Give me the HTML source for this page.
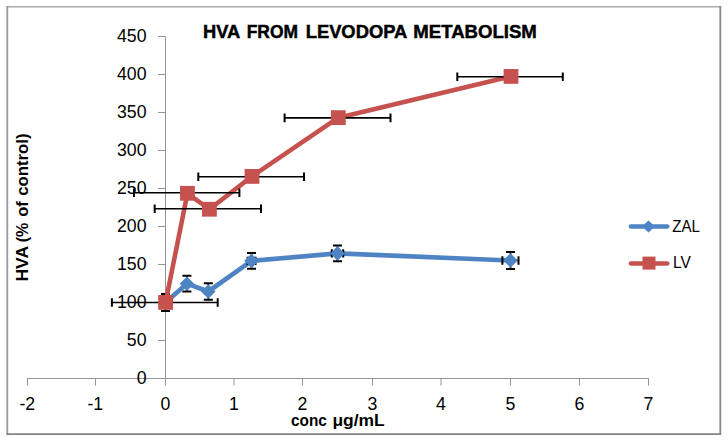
<!DOCTYPE html>
<html><head><meta charset="utf-8"><style>
html,body{margin:0;padding:0;background:#fff;width:728px;height:442px;overflow:hidden}
svg{display:block}
.tk{font-family:"Liberation Sans",sans-serif;font-size:17.7px;fill:#000}
.tt{font-family:"Liberation Sans",sans-serif;font-size:17.7px;font-weight:bold;fill:#000;stroke:#000;stroke-width:0.45px}
.at{font-family:"Liberation Sans",sans-serif;font-size:16px;font-weight:bold;fill:#000}
</style></head><body>
<svg width="728" height="442" viewBox="0 0 728 442">
<line x1="6.5" y1="6.7" x2="721.2" y2="6.7" stroke="#aaa" stroke-width="1.6"/>
<line x1="7.3" y1="6" x2="7.3" y2="435" stroke="#999" stroke-width="1.8"/>
<line x1="6.5" y1="434.1" x2="721.2" y2="434.1" stroke="#848484" stroke-width="1.8"/>
<line x1="720.3" y1="6" x2="720.3" y2="435" stroke="#888" stroke-width="1.8"/>
<line x1="27" y1="378.5" x2="649" y2="378.5" stroke="#959595" stroke-width="1"/>
<line x1="165.5" y1="36.5" x2="165.5" y2="379.0" stroke="#959595" stroke-width="1"/>
<line x1="158" y1="378.5" x2="165.5" y2="378.5" stroke="#959595" stroke-width="1"/>
<line x1="158" y1="340.5" x2="165.5" y2="340.5" stroke="#959595" stroke-width="1"/>
<line x1="158" y1="302.5" x2="165.5" y2="302.5" stroke="#959595" stroke-width="1"/>
<line x1="158" y1="264.5" x2="165.5" y2="264.5" stroke="#959595" stroke-width="1"/>
<line x1="158" y1="226.5" x2="165.5" y2="226.5" stroke="#959595" stroke-width="1"/>
<line x1="158" y1="188.5" x2="165.5" y2="188.5" stroke="#959595" stroke-width="1"/>
<line x1="158" y1="150.5" x2="165.5" y2="150.5" stroke="#959595" stroke-width="1"/>
<line x1="158" y1="112.5" x2="165.5" y2="112.5" stroke="#959595" stroke-width="1"/>
<line x1="158" y1="74.5" x2="165.5" y2="74.5" stroke="#959595" stroke-width="1"/>
<line x1="158" y1="36.5" x2="165.5" y2="36.5" stroke="#959595" stroke-width="1"/>
<line x1="27.5" y1="378.5" x2="27.5" y2="385.6" stroke="#959595" stroke-width="1"/>
<line x1="95.5" y1="378.5" x2="95.5" y2="385.6" stroke="#959595" stroke-width="1"/>
<line x1="165.5" y1="378.5" x2="165.5" y2="385.6" stroke="#959595" stroke-width="1"/>
<line x1="234.0" y1="378.5" x2="234.0" y2="385.6" stroke="#959595" stroke-width="1"/>
<line x1="302.5" y1="378.5" x2="302.5" y2="385.6" stroke="#959595" stroke-width="1"/>
<line x1="372.5" y1="378.5" x2="372.5" y2="385.6" stroke="#959595" stroke-width="1"/>
<line x1="441.0" y1="378.5" x2="441.0" y2="385.6" stroke="#959595" stroke-width="1"/>
<line x1="510.5" y1="378.5" x2="510.5" y2="385.6" stroke="#959595" stroke-width="1"/>
<line x1="579.5" y1="378.5" x2="579.5" y2="385.6" stroke="#959595" stroke-width="1"/>
<line x1="648.5" y1="378.5" x2="648.5" y2="385.6" stroke="#959595" stroke-width="1"/>
<text x="146.5" y="384.3" text-anchor="end" class="tk">0</text>
<text x="146.5" y="346.3" text-anchor="end" class="tk">50</text>
<text x="146.5" y="308.3" text-anchor="end" class="tk">100</text>
<text x="146.5" y="270.3" text-anchor="end" class="tk">150</text>
<text x="146.5" y="232.3" text-anchor="end" class="tk">200</text>
<text x="146.5" y="194.3" text-anchor="end" class="tk">250</text>
<text x="146.5" y="156.3" text-anchor="end" class="tk">300</text>
<text x="146.5" y="118.3" text-anchor="end" class="tk">350</text>
<text x="146.5" y="80.3" text-anchor="end" class="tk">400</text>
<text x="146.5" y="42.3" text-anchor="end" class="tk">450</text>
<text x="27.3" y="409.7" text-anchor="middle" class="tk">-2</text>
<text x="95.3" y="409.7" text-anchor="middle" class="tk">-1</text>
<text x="165.3" y="409.7" text-anchor="middle" class="tk">0</text>
<text x="233.8" y="409.7" text-anchor="middle" class="tk">1</text>
<text x="302.3" y="409.7" text-anchor="middle" class="tk">2</text>
<text x="372.3" y="409.7" text-anchor="middle" class="tk">3</text>
<text x="440.8" y="409.7" text-anchor="middle" class="tk">4</text>
<text x="510.3" y="409.7" text-anchor="middle" class="tk">5</text>
<text x="579.3" y="409.7" text-anchor="middle" class="tk">6</text>
<text x="648.3" y="409.7" text-anchor="middle" class="tk">7</text>
<text x="203.0" y="37.9" class="tt" textLength="37.3" lengthAdjust="spacingAndGlyphs">HVA</text>
<text x="246.7" y="37.9" class="tt" textLength="51.3" lengthAdjust="spacingAndGlyphs">FROM</text>
<text x="305.7" y="37.9" class="tt" textLength="101.6" lengthAdjust="spacingAndGlyphs">LEVODOPA</text>
<text x="413.3" y="37.9" class="tt" textLength="123.5" lengthAdjust="spacingAndGlyphs">METABOLISM</text>
<g transform="translate(28.1,300) rotate(-90)">
<text x="18.5" y="0" class="at" style="font-size:16.5px" textLength="35.6" lengthAdjust="spacingAndGlyphs">HVA</text>
<text x="57.7" y="0" class="at" style="font-size:16.5px" textLength="19.6" lengthAdjust="spacingAndGlyphs">(%</text>
<text x="83.2" y="0" class="at" style="font-size:16.5px" textLength="15.5" lengthAdjust="spacingAndGlyphs">of</text>
<text x="104.2" y="0" class="at" style="font-size:16.5px" textLength="62.3" lengthAdjust="spacingAndGlyphs">control)</text>
</g>
<text x="291.1" y="425.7" class="at" style="font-size:17px" textLength="35.8" lengthAdjust="spacingAndGlyphs">conc</text>
<text x="332.4" y="425.7" class="at" style="font-size:17px" textLength="52.3" lengthAdjust="spacingAndGlyphs">μg/mL</text>
<polyline points="165.50,302.40 186.90,283.70 208.30,291.50 251.50,260.85 337.50,253.40 510.50,260.45" fill="none" stroke="#4F84C4" stroke-width="4.6" stroke-linejoin="round" stroke-linecap="round"/>
<path d="M165.5 294.1V310.9" stroke="#000" stroke-width="1.6" fill="none"/>
<path d="M161.0 294.1H170.0M161.0 310.9H170.0" stroke="#000" stroke-width="2" fill="none"/>
<path d="M186.9 275.8V291.6" stroke="#000" stroke-width="1.6" fill="none"/>
<path d="M182.4 275.8H191.4M182.4 291.6H191.4" stroke="#000" stroke-width="2" fill="none"/>
<path d="M208.3 283.2V299.8" stroke="#000" stroke-width="1.6" fill="none"/>
<path d="M203.8 283.2H212.8M203.8 299.8H212.8" stroke="#000" stroke-width="2" fill="none"/>
<path d="M251.5 252.9V268.8" stroke="#000" stroke-width="1.6" fill="none"/>
<path d="M247.0 252.9H256.0M247.0 268.8H256.0" stroke="#000" stroke-width="2" fill="none"/>
<path d="M247.6 260.85H255.5" stroke="#000" stroke-width="1.6" fill="none"/>
<path d="M247.6 256.65000000000003V265.05M255.5 256.65000000000003V265.05" stroke="#000" stroke-width="2" fill="none"/>
<path d="M337.5 245.4V261.3" stroke="#000" stroke-width="1.6" fill="none"/>
<path d="M333.0 245.4H342.0M333.0 261.3H342.0" stroke="#000" stroke-width="2" fill="none"/>
<path d="M331.8 253.4H343.2" stroke="#000" stroke-width="1.6" fill="none"/>
<path d="M331.8 249.20000000000002V257.6M343.2 249.20000000000002V257.6" stroke="#000" stroke-width="2" fill="none"/>
<path d="M510.5 252.1V268.9" stroke="#000" stroke-width="1.6" fill="none"/>
<path d="M506.0 252.1H515.0M506.0 268.9H515.0" stroke="#000" stroke-width="2" fill="none"/>
<path d="M502.4 260.45H518.5" stroke="#000" stroke-width="1.6" fill="none"/>
<path d="M502.4 256.25V264.65M518.5 256.25V264.65" stroke="#000" stroke-width="2" fill="none"/>
<path d="M165.5 295.09999999999997L172.8 302.4L165.5 309.7L158.2 302.4Z" fill="#4F84C4"/>
<path d="M186.9 276.4L194.20000000000002 283.7L186.9 291.0L179.6 283.7Z" fill="#4F84C4"/>
<path d="M208.3 284.2L215.60000000000002 291.5L208.3 298.8L201.0 291.5Z" fill="#4F84C4"/>
<path d="M251.5 253.55L258.8 260.85L251.5 268.15000000000003L244.2 260.85Z" fill="#4F84C4"/>
<path d="M337.5 246.1L344.8 253.4L337.5 260.7L330.2 253.4Z" fill="#4F84C4"/>
<path d="M510.5 253.14999999999998L517.8 260.45L510.5 267.75L503.2 260.45Z" fill="#4F84C4"/>
<polyline points="165.60,302.40 187.45,193.30 209.40,209.25 252.00,176.40 338.30,117.65 511.00,76.40" fill="none" stroke="#C5524F" stroke-width="4.6" stroke-linejoin="round" stroke-linecap="round"/>
<path d="M111.9 302.5H217.7" stroke="#000" stroke-width="1.6" fill="none"/>
<path d="M111.9 298.2V306.8M217.7 298.2V306.8" stroke="#000" stroke-width="2" fill="none"/>
<path d="M134.0 192.8H239.4" stroke="#000" stroke-width="1.6" fill="none"/>
<path d="M134.0 188.5V197.10000000000002M239.4 188.5V197.10000000000002" stroke="#000" stroke-width="2" fill="none"/>
<path d="M154.7 208.7H261.0" stroke="#000" stroke-width="1.6" fill="none"/>
<path d="M154.7 204.39999999999998V213.0M261.0 204.39999999999998V213.0" stroke="#000" stroke-width="2" fill="none"/>
<path d="M198.3 176.7H304.0" stroke="#000" stroke-width="1.6" fill="none"/>
<path d="M198.3 172.39999999999998V181.0M304.0 172.39999999999998V181.0" stroke="#000" stroke-width="2" fill="none"/>
<path d="M284.6 117.9H390.5" stroke="#000" stroke-width="1.6" fill="none"/>
<path d="M284.6 113.60000000000001V122.2M390.5 113.60000000000001V122.2" stroke="#000" stroke-width="2" fill="none"/>
<path d="M457.3 76.75H562.8" stroke="#000" stroke-width="1.6" fill="none"/>
<path d="M457.3 72.45V81.05M562.8 72.45V81.05" stroke="#000" stroke-width="2" fill="none"/>
<rect x="158.2" y="295.0" width="14.8" height="14.8" fill="#C5524F"/>
<rect x="180.04999999999998" y="185.9" width="14.8" height="14.8" fill="#C5524F"/>
<rect x="202.0" y="201.85" width="14.8" height="14.8" fill="#C5524F"/>
<rect x="244.6" y="169.0" width="14.8" height="14.8" fill="#C5524F"/>
<rect x="330.90000000000003" y="110.25" width="14.8" height="14.8" fill="#C5524F"/>
<rect x="503.6" y="69.0" width="14.8" height="14.8" fill="#C5524F"/>
<line x1="630.8" y1="226.5" x2="667.4" y2="226.5" stroke="#4F84C4" stroke-width="4.3" stroke-linecap="round"/>
<path d="M648.5 220.6L655 226.6L648.5 232.6L642 226.6Z" fill="#4F84C4"/>
<text x="672.3" y="231.8" class="tk" style="font-size:16.5px" textLength="27.6" lengthAdjust="spacingAndGlyphs">ZAL</text>
<line x1="630.8" y1="263.5" x2="667.4" y2="263.5" stroke="#C5524F" stroke-width="4.3" stroke-linecap="round"/>
<rect x="642.5" y="256.6" width="13" height="13" fill="#C5524F"/>
<text x="673" y="268" class="tk" style="font-size:16.5px" textLength="17.8" lengthAdjust="spacingAndGlyphs">LV</text>
</svg></body></html>
